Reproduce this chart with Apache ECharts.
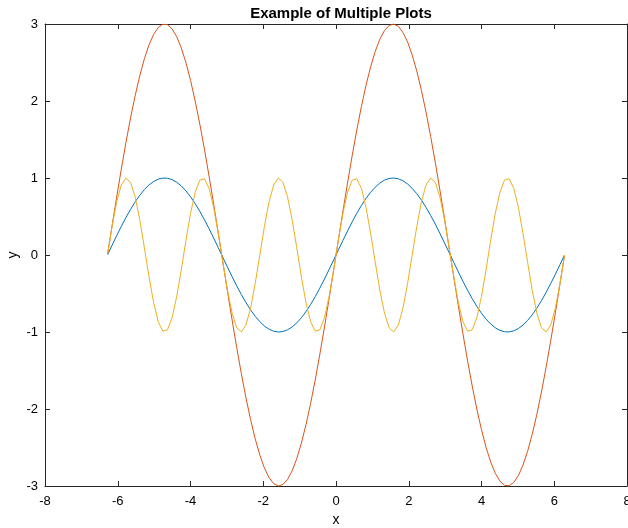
<!DOCTYPE html>
<html>
<head>
<meta charset="utf-8">
<script src="https://cdn.jsdelivr.net/npm/echarts@6/dist/echarts.min.js"></script>
<style>html,body{margin:0;padding:0;background:#fff}#c{width:628px;height:528px}</style>
</head>
<body>
<div id="c"></div>
<script>
var xValues = [-6.2832,-6.1563,-6.0293,-5.9024,-5.7755,-5.6485,-5.5216,-5.3947,-5.2677,-5.1408,
-5.0139,-4.8869,-4.7600,-4.6331,-4.5061,-4.3792,-4.2523,-4.1253,-3.9984,-3.8715,
-3.7445,-3.6176,-3.4907,-3.3637,-3.2368,-3.1099,-2.9829,-2.8560,-2.7291,-2.6021,
-2.4752,-2.3483,-2.2213,-2.0944,-1.9675,-1.8405,-1.7136,-1.5867,-1.4597,-1.3328,
-1.2059,-1.0789,-0.9520,-0.8251,-0.6981,-0.5712,-0.4443,-0.3173,-0.1904,-0.0635,
0.0635,0.1904,0.3173,0.4443,0.5712,0.6981,0.8251,0.9520,1.0789,1.2059,
1.3328,1.4597,1.5867,1.7136,1.8405,1.9675,2.0944,2.2213,2.3483,2.4752,
2.6021,2.7291,2.8560,2.9829,3.1099,3.2368,3.3637,3.4907,3.6176,3.7445,
3.8715,3.9984,4.1253,4.2523,4.3792,4.5061,4.6331,4.7600,4.8869,5.0139,
5.1408,5.2677,5.3947,5.5216,5.6485,5.7755,5.9024,6.0293,6.1563,6.2832];

var blueValues = [0,0.1266,0.2511,0.3717,0.4863,0.5929,0.6901,0.7761,0.8497,0.9097,
0.9550,0.9848,0.9989,0.9969,0.9788,0.9450,0.8960,0.8326,0.7557,0.6667,
0.5670,0.4582,0.3420,0.2203,0.0951,-0.0317,-0.1580,-0.2817,-0.4009,-0.5137,
-0.6182,-0.7127,-0.7958,-0.8660,-0.9224,-0.9638,-0.9898,-0.9999,-0.9938,-0.9718,
-0.9342,-0.8814,-0.8146,-0.7346,-0.6428,-0.5406,-0.4298,-0.3120,-0.1892,-0.0634,
0.0634,0.1892,0.3120,0.4298,0.5406,0.6428,0.7346,0.8146,0.8814,0.9342,
0.9718,0.9938,0.9999,0.9898,0.9638,0.9224,0.8660,0.7958,0.7127,0.6182,
0.5137,0.4009,0.2817,0.1580,0.0317,-0.0951,-0.2203,-0.3420,-0.4582,-0.5670,
-0.6667,-0.7557,-0.8326,-0.8960,-0.9450,-0.9788,-0.9969,-0.9989,-0.9848,-0.9550,
-0.9097,-0.8497,-0.7761,-0.6901,-0.5929,-0.4863,-0.3717,-0.2511,-0.1266,0];

var redValues = [0,0.380,0.753,1.115,1.459,1.779,2.070,2.328,2.549,2.729,
2.865,2.954,2.997,2.991,2.936,2.835,2.688,2.498,2.267,2.000,
1.701,1.375,1.026,0.661,0.285,-0.095,-0.474,-0.845,-1.203,-1.541,
-1.855,-2.138,-2.387,-2.598,-2.767,-2.891,-2.969,-3.000,-2.981,-2.915,
-2.803,-2.644,-2.444,-2.204,-1.928,-1.622,-1.289,-0.936,-0.568,-0.190,
0.190,0.568,0.936,1.289,1.622,1.928,2.204,2.444,2.644,2.803,
2.915,2.981,3.000,2.969,2.891,2.767,2.598,2.387,2.138,1.855,
1.541,1.203,0.845,0.474,0.095,-0.285,-0.661,-1.026,-1.375,-1.701,
-2.000,-2.267,-2.498,-2.688,-2.835,-2.936,-2.991,-2.997,-2.954,-2.865,
-2.729,-2.549,-2.328,-2.070,-1.779,-1.459,-1.115,-0.753,-0.380,0];

var yellowValues = [0,0.3717,0.6901,0.9097,0.9989,0.9450,0.7557,0.4582,0.0951,-0.2817,
-0.6182,-0.8660,-0.9898,-0.9718,-0.8146,-0.5406,-0.1892,0.1892,0.5406,0.8146,
0.9718,0.9898,0.8660,0.6182,0.2817,-0.0951,-0.4582,-0.7557,-0.9450,-0.9989,
-0.9097,-0.6901,-0.3717,0,0.3717,0.6901,0.9097,0.9989,0.9450,0.7557,
0.4582,0.0951,-0.2817,-0.6182,-0.8660,-0.9898,-0.9718,-0.8146,-0.5406,-0.1892,
0.1892,0.5406,0.8146,0.9718,0.9898,0.8660,0.6182,0.2817,-0.0951,-0.4582,
-0.7557,-0.9450,-0.9989,-0.9097,-0.6901,-0.3717,0,0.3717,0.6901,0.9097,
0.9989,0.9450,0.7557,0.4582,0.0951,-0.2817,-0.6182,-0.8660,-0.9898,-0.9718,
-0.8146,-0.5406,-0.1892,0.1892,0.5406,0.8146,0.9718,0.9898,0.8660,0.6182,
0.2817,-0.0951,-0.4582,-0.7557,-0.9450,-0.9989,-0.9097,-0.6901,-0.3717,0];

var titleText = 'Example of Multiple Plots';
var xName = 'x';
var yName = 'y';

function pairs(ys) { return xValues.map(function (x, i) { return [x, ys[i]]; }); }

var font = 'Liberation Sans, Arial, Helvetica, sans-serif';
var axisLine = { show: true, onZero: false, lineStyle: { color: '#262626', width: 1 } };
var tick = { show: true, inside: true, length: 5, lineStyle: { color: '#262626', width: 1 } };

var chart = echarts.init(document.getElementById('c'), null, { renderer: 'canvas' });
chart.setOption({
  animation: false,
  backgroundColor: '#ffffff',
  title: {
    text: titleText, left: 336, textAlign: 'center', top: 1,
    textStyle: { fontFamily: font, fontWeight: 'bold', fontSize: 15, color: '#000' }
  },
  grid: { left: 45, right: 1, top: 24, bottom: 42, containLabel: false, outerBoundsMode: 'none' },
  xAxis: [{
    type: 'value', min: -8, max: 8, interval: 2, position: 'bottom',
    name: xName, nameLocation: 'middle', nameGap: 27,
    nameTextStyle: { fontFamily: font, fontSize: 14, color: '#000' },
    axisLine: axisLine, axisTick: tick, splitLine: { show: false },
    axisLabel: { margin: 9, fontFamily: font, fontSize: 13, color: '#000' }
  }, {
    type: 'value', min: -8, max: 8, interval: 2, position: 'top',
    axisLine: axisLine, axisTick: tick, splitLine: { show: false },
    axisLabel: { show: false }
  }],
  yAxis: [{
    type: 'value', min: -3, max: 3, interval: 1, position: 'left',
    name: yName, nameLocation: 'middle', nameGap: 25, nameMoveOverlap: false,
    nameTextStyle: { fontFamily: font, fontSize: 14, color: '#000' },
    axisLine: axisLine, axisTick: tick, splitLine: { show: false },
    axisLabel: { margin: 7, fontFamily: font, fontSize: 13, color: '#000' }
  }, {
    type: 'value', min: -3, max: 3, interval: 1, position: 'right',
    axisLine: axisLine, axisTick: tick, splitLine: { show: false },
    axisLabel: { show: false }
  }],
  series: [
    { type: 'line', data: pairs(blueValues), showSymbol: false, lineStyle: { color: '#0072BD', width: 1 }, itemStyle: { color: '#0072BD' } },
    { type: 'line', data: pairs(redValues), showSymbol: false, lineStyle: { color: '#D95319', width: 1 }, itemStyle: { color: '#D95319' } },
    { type: 'line', data: pairs(yellowValues), showSymbol: false, lineStyle: { color: '#EDB120', width: 1 }, itemStyle: { color: '#EDB120' } }
  ]
});
</script>
</body>
</html>
